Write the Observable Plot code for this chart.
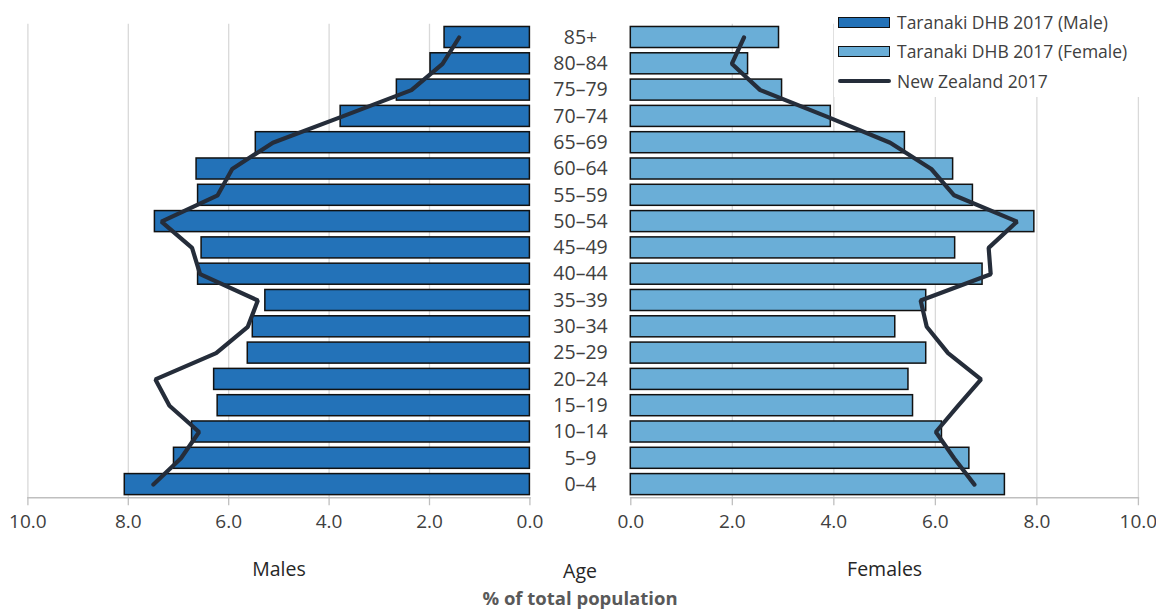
<!DOCTYPE html>
<html>
<head>
<meta charset="utf-8">
<script src="https://cdn.jsdelivr.net/npm/d3@7"></script>
<script src="https://cdn.jsdelivr.net/npm/@observablehq/plot@0.6"></script>
<style>
  html, body { margin: 0; padding: 0; background: #fff; }
  body { width: 1156px; height: 614px; position: relative; overflow: hidden; font-family: "Open Sans", sans-serif; }
  #left, #right { position: absolute; top: 0; }
  #left { left: 0; }
  #right { left: 600px; }
  .legend { position: absolute; left: 834px; top: 7px; width: 310px; height: 90px; background: #fff; font-size: 17.5px; color: #404040; }
  .legend .row { position: absolute; left: 4px; height: 22px; display: flex; align-items: center; }
  .legend .sw { width: 50px; height: 9px; border: 1.5px solid #111; margin-right: 7px; }
  .legend .ln { width: 53px; height: 4px; background: #252d3a; border-radius: 2px; margin-right: 6px; }
  .agelbl { position: absolute; left: 540px; width: 80px; top: 557px; text-align: center; font-size: 19.5px; color: #262626; }
  .title { position: absolute; left: 0; width: 1160px; top: 587px; line-height: 22px; text-align: center; font-size: 18.5px; font-weight: bold; color: #595959; }
</style>
</head>
<body>
<div id="left"></div>
<div id="right"></div>
<div class="legend">
  <div class="row" style="top:4px"><div class="sw" style="background:#2372b8"></div>Taranaki DHB 2017 (Male)</div>
  <div class="row" style="top:33px"><div class="sw" style="background:#6aaed7"></div>Taranaki DHB 2017 (Female)</div>
  <div class="row" style="top:63px"><div class="ln"></div>New Zealand 2017</div>
</div>
<div class="agelbl">Age</div>
<div class="title">% of total population</div>
<script>
const ages = ["0–4","5–9","10–14","15–19","20–24","25–29","30–34","35–39","40–44","45–49","50–54","55–59","60–64","65–69","70–74","75–79","80–84","85+"];
const maleDHB   = [8.07,7.09,6.73,6.22,6.29,5.62,5.52,5.27,6.61,6.54,7.47,6.61,6.64,5.46,3.77,2.65,1.98,1.70];
const femaleDHB = [7.37,6.67,6.13,5.56,5.47,5.82,5.21,5.82,6.93,6.39,7.95,6.74,6.35,5.40,3.94,2.98,2.31,2.92];
const nzMale    = [7.50,6.95,6.59,7.18,7.46,6.25,5.62,5.42,6.57,6.73,7.34,6.22,5.93,5.12,3.73,2.36,1.74,1.41];
const nzFemale  = [6.77,6.37,6.01,6.45,6.90,6.25,5.83,5.71,7.09,7.05,7.61,6.37,5.92,5.11,3.85,2.55,1.99,2.23];
const xTicks = [0, 2, 4, 6, 8, 10];
const panelLabels = ["Males", "Females"];

const rows = ages.map((age, i) => ({age, male: maleDHB[i], female: femaleDHB[i], nzM: nzMale[i], nzF: nzFemale[i]}));
const yDomain = ages.slice().reverse();

const H = 585, MT = 23.85, MB = H - 497.25;
const fmt = d3.format(".1f");
const font = "'Open Sans', sans-serif";

function panel({width, marginLeft, marginRight, domain, value, nz, fill, label, showAges}) {
  return Plot.plot({
    width, height: H, marginLeft, marginRight, marginTop: MT, marginBottom: MB,
    style: {background: "transparent", overflow: "visible", fontFamily: font},
    x: {domain, ticks: xTicks},
    y: {domain: yDomain, paddingInner: 0.2, paddingOuter: 0.1, round: false, axis: null},
    marks: [
      Plot.ruleX(xTicks.filter(d => d > 0), {stroke: "#d9d9d9", strokeWidth: 1.3}),
      Plot.frame({anchor: "bottom", stroke: "#bfbfbf", strokeWidth: 1.5}),
      Plot.axisX(xTicks, {tickSize: 8, tickPadding: 9, stroke: "#bfbfbf", strokeWidth: 1.3, tickFormat: fmt, fontSize: 19, fill: "#404040"}),
      Plot.barX(rows, {x: value, y: "age", fill, stroke: "#111", strokeWidth: 1.5}),
      Plot.lineX(rows, {x: nz, y: "age", stroke: "#252d3a", strokeWidth: 4.2, strokeLinejoin: "miter"}),
      Plot.text([label], {frameAnchor: "bottom", dy: 78, fontSize: 19.5, fill: "#262626"}),
      showAges ? Plot.text(rows, {y: "age", text: "age", frameAnchor: "right", dx: 50.6, textAnchor: "middle", fontSize: 19.5, fill: "#404040"}) : null
    ]
  });
}

document.getElementById("left").append(panel({
  width: 600, marginLeft: 27.4, marginRight: 600 - 529.4, domain: [10, 0],
  value: "male", nz: "nzM", fill: "#2372b8", label: panelLabels[0], showAges: true
}));
document.getElementById("right").append(panel({
  width: 556, marginLeft: 30.3, marginRight: 556 - 537.9, domain: [0, 10],
  value: "female", nz: "nzF", fill: "#6aaed7", label: panelLabels[1], showAges: false
}));
</script>
</body>
</html>
